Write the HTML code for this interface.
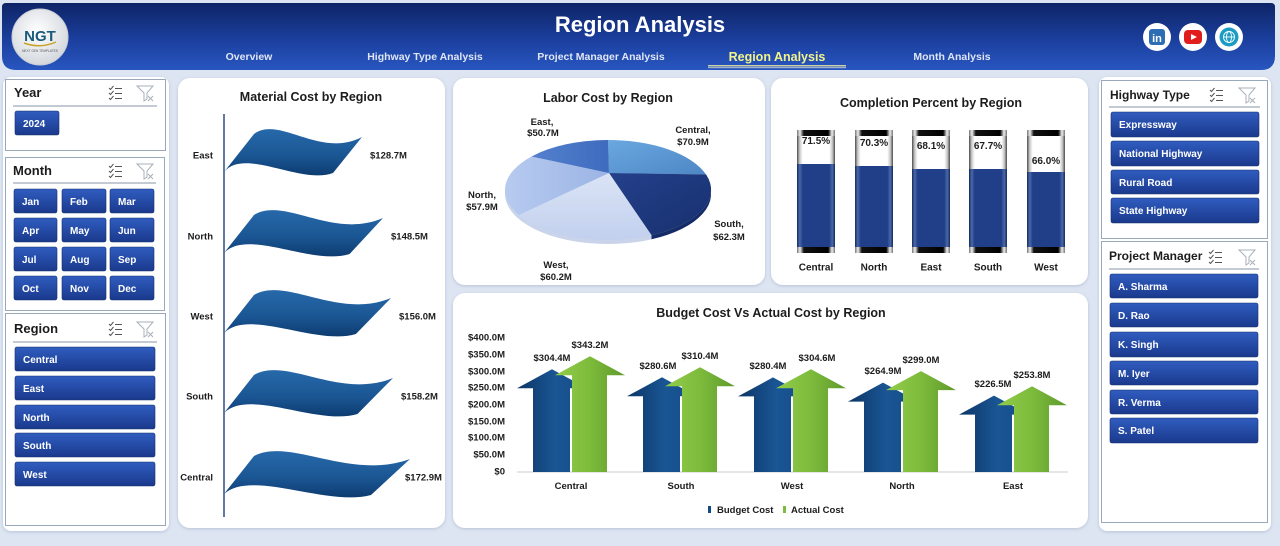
<!DOCTYPE html>
<html><head><meta charset="utf-8"><style>
html,body{margin:0;padding:0;background:#dde5f2;}
svg{display:block;font-family:"Liberation Sans",Arial,sans-serif;}
</style></head><body>
<svg width="1280" height="546" viewBox="0 0 1280 546" xmlns="http://www.w3.org/2000/svg">
<defs>
<linearGradient id="hdr" x1="0" y1="0" x2="0" y2="1"><stop offset="0" stop-color="#0e2466"/><stop offset="0.55" stop-color="#1b3f9e"/><stop offset="1" stop-color="#2856c0"/></linearGradient>
<linearGradient id="btn" x1="0" y1="0" x2="0" y2="1"><stop offset="0" stop-color="#305dc0"/><stop offset="1" stop-color="#1a398c"/></linearGradient>
<linearGradient id="wave" x1="0" y1="0" x2="0" y2="1"><stop offset="0" stop-color="#2769aa"/><stop offset="0.6" stop-color="#1a5592"/><stop offset="1" stop-color="#0d3c70"/></linearGradient>
<linearGradient id="blueA" x1="0" y1="0" x2="1" y2="0"><stop offset="0" stop-color="#0c3566"/><stop offset="0.55" stop-color="#1a5694"/><stop offset="1" stop-color="#134a86"/></linearGradient>
<linearGradient id="greenA" x1="0" y1="0" x2="1" y2="0"><stop offset="0" stop-color="#93cc4a"/><stop offset="0.5" stop-color="#7dbb3c"/><stop offset="1" stop-color="#5f9a2c"/></linearGradient>
<linearGradient id="tube" x1="0" y1="0" x2="1" y2="0"><stop offset="0" stop-color="#4a4a4a"/><stop offset="0.07" stop-color="#c8c8c8"/><stop offset="0.15" stop-color="#ffffff"/><stop offset="0.85" stop-color="#ffffff"/><stop offset="0.93" stop-color="#c8c8c8"/><stop offset="1" stop-color="#4a4a4a"/></linearGradient>
<linearGradient id="cap" x1="0" y1="0" x2="1" y2="0"><stop offset="0" stop-color="#777"/><stop offset="0.08" stop-color="#eee"/><stop offset="0.18" stop-color="#111"/><stop offset="0.82" stop-color="#000"/><stop offset="0.92" stop-color="#eee"/><stop offset="1" stop-color="#777"/></linearGradient>
<linearGradient id="fill" x1="0" y1="0" x2="1" y2="0"><stop offset="0" stop-color="#14295e"/><stop offset="0.07" stop-color="#4a68a8"/><stop offset="0.15" stop-color="#213f88"/><stop offset="0.85" stop-color="#213f88"/><stop offset="0.93" stop-color="#4a68a8"/><stop offset="1" stop-color="#14295e"/></linearGradient>
<linearGradient id="pC" x1="0" y1="0" x2="1" y2="1"><stop offset="0" stop-color="#6aa8e0"/><stop offset="1" stop-color="#4d86c4"/></linearGradient>
<linearGradient id="pS" x1="0" y1="0" x2="1" y2="1"><stop offset="0" stop-color="#24408a"/><stop offset="1" stop-color="#17306f"/></linearGradient>
<linearGradient id="pW" x1="0" y1="0" x2="0" y2="1"><stop offset="0" stop-color="#dbe4f6"/><stop offset="1" stop-color="#c2d0ee"/></linearGradient>
<linearGradient id="pN" x1="0" y1="0" x2="1" y2="0"><stop offset="0" stop-color="#b7cbf0"/><stop offset="1" stop-color="#9bb4e4"/></linearGradient>
<linearGradient id="pE" x1="0" y1="0" x2="1" y2="0"><stop offset="0" stop-color="#5580cf"/><stop offset="1" stop-color="#3e6bbd"/></linearGradient>
<radialGradient id="logo" cx="0.45" cy="0.4" r="0.6"><stop offset="0" stop-color="#ffffff"/><stop offset="1" stop-color="#d4d8de"/></radialGradient>
<filter id="sh" x="-5%" y="-5%" width="110%" height="110%"><feDropShadow dx="0" dy="1" stdDeviation="1.5" flood-color="#7080a0" flood-opacity="0.35"/></filter>
</defs>

<rect x="0" y="0" width="1280" height="546" fill="#dde5f2"/>

<!-- HEADER -->
<path d="M6,3 H1271 Q1275,3 1275,7 V56 Q1275,70 1261,70 H16 Q2,70 2,56 V7 Q2,3 6,3 Z" fill="url(#hdr)"/>
<circle cx="40" cy="37" r="28" fill="url(#logo)" stroke="#c8ccd4" stroke-width="1"/>
<text x="40" y="41" text-anchor="middle" font-size="15" font-weight="bold" fill="#1a5a7a">NGT</text>
<path d="M24,43 Q40,49 56,42" stroke="#c9a227" stroke-width="1.5" fill="none"/>
<text x="40" y="52" text-anchor="middle" font-size="3.2" fill="#555">NEXT GEN TEMPLATES</text>
<text x="640" y="32" text-anchor="middle" font-size="22" font-weight="bold" fill="#ffffff">Region Analysis</text>
<g font-size="10.5" font-weight="bold" fill="#dfe6f6" text-anchor="middle">
<text x="249" y="60">Overview</text>
<text x="425" y="60">Highway Type Analysis</text>
<text x="601" y="60">Project Manager Analysis</text>
<text x="952" y="60">Month Analysis</text>
</g>
<text x="777" y="61" text-anchor="middle" font-size="12.5" font-weight="bold" fill="#f3f38a">Region Analysis</text>
<rect x="708" y="65" width="138" height="1.5" fill="#c8d0a8"/>
<rect x="708" y="67" width="138" height="1.2" fill="#9fb0c8"/>
<!-- social icons -->
<circle cx="1157" cy="37" r="14" fill="#ffffff"/>
<rect x="1149" y="29" width="16" height="16" rx="3" fill="#2d6db3"/>
<text x="1157" y="42" text-anchor="middle" font-size="11" font-weight="bold" fill="#fff">in</text>
<circle cx="1193" cy="37" r="14" fill="#ffffff"/>
<rect x="1184" y="30" width="18" height="14" rx="4" fill="#e01e1e"/>
<path d="M1191,34 L1197,37 L1191,40 Z" fill="#fff"/>
<circle cx="1229" cy="37" r="14" fill="#ffffff"/>
<circle cx="1229" cy="37" r="9.5" fill="#1a9cc4"/>
<g stroke="#fff" stroke-width="0.9" fill="none"><circle cx="1229" cy="37" r="5.5"/><ellipse cx="1229" cy="37" rx="2.5" ry="5.5"/><line x1="1223.5" y1="37" x2="1234.5" y2="37"/></g>

<!-- LEFT SLICER CARD -->
<rect x="3" y="77" width="166" height="454" rx="8" fill="#ffffff" filter="url(#sh)"/>
<g fill="none" stroke="#9aa8bc" stroke-width="1">
<rect x="5.5" y="79.5" width="160" height="71"/>
<rect x="5.5" y="157.5" width="159" height="153"/>
<rect x="5.5" y="313.5" width="160" height="212"/>
</g>
<g font-size="13" font-weight="bold" fill="#1c1c1c">
<text x="14" y="97">Year</text>
<text x="13" y="175">Month</text>
<text x="14" y="333">Region</text>
</g>
<g stroke="#8a96a8" stroke-width="1">
<line x1="13" y1="106" x2="157" y2="106"/>
<line x1="13" y1="183" x2="156" y2="183"/>
<line x1="13" y1="342" x2="157" y2="342"/>
</g>

<!-- RIGHT SLICER CARD -->
<rect x="1099" y="77" width="172" height="454" rx="8" fill="#ffffff" filter="url(#sh)"/>
<g fill="none" stroke="#9aa8bc" stroke-width="1">
<rect x="1101.5" y="80.5" width="166" height="158"/>
<rect x="1101.5" y="241.5" width="166" height="281"/>
</g>
<g font-size="12" font-weight="bold" fill="#1c1c1c">
<text x="1110" y="99">Highway Type</text>
<text x="1109" y="260">Project Manager</text>
</g>
<g stroke="#8a96a8" stroke-width="1">
<line x1="1109" y1="107" x2="1260" y2="107"/>
<line x1="1109" y1="269" x2="1259" y2="269"/>
</g>

<!-- slicer icons -->
<g stroke-width="1" fill="none">
<g stroke="#555">
<path d="M109,88 l1.5,1.5 l3,-3.5 M109,93 l1.5,1.5 l3,-3.5 M109,98 l1.5,1.5 l3,-3.5"/><path d="M115,88.5 h7 M115,93.5 h7 M115,98.5 h7"/>
<path d="M109,166 l1.5,1.5 l3,-3.5 M109,171 l1.5,1.5 l3,-3.5 M109,176 l1.5,1.5 l3,-3.5"/><path d="M115,166.5 h7 M115,171.5 h7 M115,176.5 h7"/>
<path d="M109,324 l1.5,1.5 l3,-3.5 M109,329 l1.5,1.5 l3,-3.5 M109,334 l1.5,1.5 l3,-3.5"/><path d="M115,324.5 h7 M115,329.5 h7 M115,334.5 h7"/>
<path d="M1210,90 l1.5,1.5 l3,-3.5 M1210,95 l1.5,1.5 l3,-3.5 M1210,100 l1.5,1.5 l3,-3.5"/><path d="M1216,90.5 h7 M1216,95.5 h7 M1216,100.5 h7"/>
<path d="M1209,252 l1.5,1.5 l3,-3.5 M1209,257 l1.5,1.5 l3,-3.5 M1209,262 l1.5,1.5 l3,-3.5"/><path d="M1215,252.5 h7 M1215,257.5 h7 M1215,262.5 h7"/>
</g>
<g stroke="#a8b0b8">
<path d="M137,86 h16 l-6,7 v6 l-3,2 v-8 Z"/><path d="M148,96 l5,5 M153,96 l-5,5"/>
<path d="M137,164 h16 l-6,7 v6 l-3,2 v-8 Z"/><path d="M148,174 l5,5 M153,174 l-5,5"/>
<path d="M137,322 h16 l-6,7 v6 l-3,2 v-8 Z"/><path d="M148,332 l5,5 M153,332 l-5,5"/>
<path d="M1239,88 h16 l-6,7 v6 l-3,2 v-8 Z"/><path d="M1250,98 l5,5 M1255,98 l-5,5"/>
<path d="M1239,250 h16 l-6,7 v6 l-3,2 v-8 Z"/><path d="M1250,260 l5,5 M1255,260 l-5,5"/>
</g>
</g>

<!-- BUTTONS -->
<g fill="url(#btn)" stroke="#16306c" stroke-width="0.6">
<rect x="15" y="111" width="44" height="24" rx="2"/>
<rect x="14" y="189" width="43" height="24" rx="2"/><rect x="62" y="189" width="44" height="24" rx="2"/><rect x="110" y="189" width="44" height="24" rx="2"/>
<rect x="14" y="218" width="43" height="24" rx="2"/><rect x="62" y="218" width="44" height="24" rx="2"/><rect x="110" y="218" width="44" height="24" rx="2"/>
<rect x="14" y="247" width="43" height="24" rx="2"/><rect x="62" y="247" width="44" height="24" rx="2"/><rect x="110" y="247" width="44" height="24" rx="2"/>
<rect x="14" y="276" width="43" height="24" rx="2"/><rect x="62" y="276" width="44" height="24" rx="2"/><rect x="110" y="276" width="44" height="24" rx="2"/>
<rect x="15" y="347" width="140" height="24" rx="2"/><rect x="15" y="376" width="140" height="24" rx="2"/><rect x="15" y="405" width="140" height="24" rx="2"/><rect x="15" y="433" width="140" height="24" rx="2"/><rect x="15" y="462" width="140" height="24" rx="2"/>
<rect x="1111" y="112" width="148" height="25" rx="2"/><rect x="1111" y="141" width="148" height="25" rx="2"/><rect x="1111" y="170" width="148" height="24" rx="2"/><rect x="1111" y="198" width="148" height="25" rx="2"/>
<rect x="1110" y="274" width="148" height="24" rx="2"/><rect x="1110" y="303" width="148" height="24" rx="2"/><rect x="1110" y="332" width="148" height="25" rx="2"/><rect x="1110" y="361" width="148" height="24" rx="2"/><rect x="1110" y="390" width="148" height="24" rx="2"/><rect x="1110" y="418" width="148" height="25" rx="2"/>
</g>
<g font-size="10" font-weight="bold" fill="#ffffff">
<text x="23" y="127">2024</text>
<text x="22" y="205">Jan</text><text x="70" y="205">Feb</text><text x="118" y="205">Mar</text>
<text x="22" y="234">Apr</text><text x="70" y="234">May</text><text x="118" y="234">Jun</text>
<text x="22" y="263">Jul</text><text x="70" y="263">Aug</text><text x="118" y="263">Sep</text>
<text x="22" y="292">Oct</text><text x="70" y="292">Nov</text><text x="118" y="292">Dec</text>
<text x="23" y="363">Central</text><text x="23" y="392">East</text><text x="23" y="421">North</text><text x="23" y="449">South</text><text x="23" y="478">West</text>
<text x="1119" y="128">Expressway</text><text x="1119" y="157">National Highway</text><text x="1119" y="186">Rural Road</text><text x="1119" y="214">State Highway</text>
<text x="1118" y="290">A. Sharma</text><text x="1118" y="319">D. Rao</text><text x="1118" y="348">K. Singh</text><text x="1118" y="377">M. Iyer</text><text x="1118" y="406">R. Verma</text><text x="1118" y="434">S. Patel</text>
</g>

<!-- CARDS -->
<g fill="#ffffff" filter="url(#sh)">
<rect x="178" y="78" width="267" height="450" rx="12"/>
<rect x="453" y="78" width="312" height="207" rx="12"/>
<rect x="771" y="78" width="317" height="207" rx="12"/>
<rect x="453" y="293" width="635" height="235" rx="12"/>
</g>
<g font-size="12.5" font-weight="bold" fill="#1c1c1c" text-anchor="middle">
<text x="311" y="101">Material Cost by Region</text>
<text x="608" y="102">Labor Cost by Region</text>
<text x="931" y="107">Completion Percent by Region</text>
<text x="771" y="317">Budget Cost Vs Actual Cost by Region</text>
</g>

<!-- MATERIAL COST -->
<g fill="url(#wave)">
<path d="M224,172 L254,134 C278.8,115 320.4,159 362,137 L333,173 C300.3,185 244.7,147 224,172 Z"/>
<path d="M224,253 L254,215 C283.7,196 333.3,240 383,218 L349.6,254 C311.5,266 247.9,228 224,253 Z"/>
<path d="M224,333 L254,295 C285.5,276 338.3,320 391,298 L355.9,334 C316.3,346 249.1,308 224,333 Z"/>
<path d="M224,413 L254,375 C286,356 339.5,400 393,378 L357.5,414 C317.5,426 249.4,388 224,413 Z"/>
<path d="M224,494 L254,456 C289.9,437 349.9,481 410,459 L371,495 C326.9,507 251.9,469 224,494 Z"/>
</g>
<line x1="224" y1="114" x2="224" y2="517" stroke="#3a5a8a" stroke-width="1.6"/>
<g font-size="9.5" font-weight="bold" fill="#1c1c1c">
<g text-anchor="end">
<text x="213" y="158.5">East</text><text x="213" y="239.5">North</text><text x="213" y="319.5">West</text><text x="213" y="399.5">South</text><text x="213" y="480.5">Central</text>
</g>
<text x="370" y="158.5">$128.7M</text><text x="391" y="239.5">$148.5M</text><text x="399" y="319.5">$156.0M</text><text x="401" y="399.5">$158.2M</text><text x="405" y="480.5">$172.9M</text>
</g>

<!-- PIE -->
<ellipse cx="608" cy="194" rx="103" ry="50" fill="#c9d4ea"/>
<path d="M706,178.5 A103,50 0 0 1 651.5,239.3 L651.5,235.3 A103,50 0 0 0 706,174.5 Z" fill="#142b66"/>
<path d="M609,173 L608,140 A103,50 0 0 1 706,174.5 Z" fill="url(#pC)"/>
<path d="M609,173 L706,174.5 A103,50 0 0 1 651.5,235.3 Z" fill="url(#pS)"/>
<path d="M609,173 L651.5,235.3 A103,50 0 0 1 518.8,215 Z" fill="url(#pW)"/>
<path d="M609,173 L518.8,215 A103,50 0 0 1 531.5,156.5 Z" fill="url(#pN)"/>
<path d="M609,173 L531.5,156.5 A103,50 0 0 1 608,140 Z" fill="url(#pE)"/>
<g font-size="9.5" font-weight="bold" fill="#1c1c1c" text-anchor="middle">
<text x="542" y="125">East,</text><text x="543" y="136">$50.7M</text>
<text x="693" y="133">Central,</text><text x="693" y="145">$70.9M</text>
<text x="482" y="198">North,</text><text x="482" y="210">$57.9M</text>
<text x="729" y="227">South,</text><text x="729" y="240">$62.3M</text>
<text x="556" y="268">West,</text><text x="556" y="280">$60.2M</text>
</g>

<!-- COMPLETION -->
<g>
<rect x="797" y="136" width="38" height="111" fill="url(#tube)"/>
<rect x="855" y="136" width="38" height="111" fill="url(#tube)"/>
<rect x="912" y="136" width="38" height="111" fill="url(#tube)"/>
<rect x="969" y="136" width="38" height="111" fill="url(#tube)"/>
<rect x="1027" y="136" width="38" height="111" fill="url(#tube)"/>
<rect x="797" y="164" width="38" height="83" fill="url(#fill)"/>
<rect x="855" y="166" width="38" height="81" fill="url(#fill)"/>
<rect x="912" y="169" width="38" height="78" fill="url(#fill)"/>
<rect x="969" y="169" width="38" height="78" fill="url(#fill)"/>
<rect x="1027" y="172" width="38" height="75" fill="url(#fill)"/>
<g fill="url(#cap)">
<rect x="797" y="130" width="38" height="6"/><rect x="855" y="130" width="38" height="6"/><rect x="912" y="130" width="38" height="6"/><rect x="969" y="130" width="38" height="6"/><rect x="1027" y="130" width="38" height="6"/>
<rect x="797" y="247" width="38" height="6"/><rect x="855" y="247" width="38" height="6"/><rect x="912" y="247" width="38" height="6"/><rect x="969" y="247" width="38" height="6"/><rect x="1027" y="247" width="38" height="6"/>
</g>
</g>
<g font-size="10" font-weight="bold" fill="#1c1c1c" text-anchor="middle">
<text x="816" y="144">71.5%</text><text x="874" y="146">70.3%</text><text x="931" y="149">68.1%</text><text x="988" y="149">67.7%</text><text x="1046" y="164">66.0%</text>
<text x="816" y="270.5">Central</text><text x="874" y="270.5">North</text><text x="931" y="270.5">East</text><text x="988" y="270.5">South</text><text x="1046" y="270.5">West</text>
</g>

<!-- BUDGET VS ACTUAL -->
<g font-size="9.5" font-weight="bold" fill="#1c1c1c" text-anchor="end">
<text x="505" y="340.5">$400.0M</text><text x="505" y="357.5">$350.0M</text><text x="505" y="374.5">$300.0M</text><text x="505" y="390.5">$250.0M</text><text x="505" y="407.5">$200.0M</text><text x="505" y="424.5">$150.0M</text><text x="505" y="440.5">$100.0M</text><text x="505" y="457.5">$50.0M</text><text x="505" y="474.5">$0</text>
</g>
<line x1="517" y1="472" x2="1068" y2="472" stroke="#d4d8de" stroke-width="1.2"/>
<path d="M533,472 V388.3 H517 L552,369.3 L587,388.3 H570 V472 Z" fill="url(#blueA)"/>
<path d="M572,472 V375.2 H555 L590,356.2 L625,375.2 H607 V472 Z" fill="url(#greenA)"/>
<path d="M643,472 V396.3 H627 L662,377.3 L697,396.3 H680 V472 Z" fill="url(#blueA)"/>
<path d="M682,472 V386.2 H665 L700,367.2 L735,386.2 H717 V472 Z" fill="url(#greenA)"/>
<path d="M754,472 V396.4 H738 L773,377.4 L808,396.4 H791 V472 Z" fill="url(#blueA)"/>
<path d="M793,472 V388.2 H776 L811,369.2 L846,388.2 H828 V472 Z" fill="url(#greenA)"/>
<path d="M864,472 V401.6 H848 L883,382.6 L918,401.6 H901 V472 Z" fill="url(#blueA)"/>
<path d="M903,472 V390.1 H886 L921,371.1 L956,390.1 H938 V472 Z" fill="url(#greenA)"/>
<path d="M975,472 V414.6 H959 L994,395.6 L1029,414.6 H1012 V472 Z" fill="url(#blueA)"/>
<path d="M1014,472 V405.3 H997 L1032,386.3 L1067,405.3 H1049 V472 Z" fill="url(#greenA)"/>
<g font-size="9.5" font-weight="bold" fill="#1c1c1c" text-anchor="middle">
<text x="552" y="361">$304.4M</text><text x="590" y="348">$343.2M</text>
<text x="658" y="369">$280.6M</text><text x="700" y="359">$310.4M</text>
<text x="768" y="369">$280.4M</text><text x="817" y="361">$304.6M</text>
<text x="883" y="374">$264.9M</text><text x="921" y="363">$299.0M</text>
<text x="993" y="387">$226.5M</text><text x="1032" y="378">$253.8M</text>
<text x="571" y="489">Central</text><text x="681" y="489">South</text><text x="792" y="489">West</text><text x="902" y="489">North</text><text x="1013" y="489">East</text>
</g>
<rect x="708" y="506" width="3" height="7" fill="#134a86"/>
<rect x="783" y="506" width="3" height="7" fill="#7dbb3c"/>
<g font-size="9.5" font-weight="bold" fill="#1c1c1c">
<text x="717" y="513">Budget Cost</text>
<text x="791" y="513">Actual Cost</text>
</g>
</svg>
</body></html>
